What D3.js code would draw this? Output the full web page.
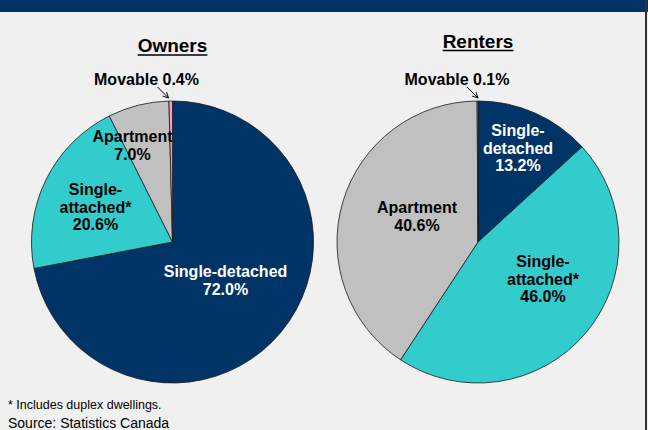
<!DOCTYPE html>
<html>
<head>
<meta charset="utf-8">
<script src="https://cdn.jsdelivr.net/npm/d3@7"></script>
<style>
  body { margin: 0; background: #f0f0f0; }
  svg { display: block; }
  text { font-family: Arial, "Liberation Sans", sans-serif; }
</style>
</head>
<body>
<svg id="chart" width="648" height="430"></svg>
<script>
const categories = ['Single-detached', 'Single-attached*', 'Apartment', 'Movable']
const ownersValues = [72.0, 20.6, 7.0, 0.4]
const rentersValues = [13.2, 46.0, 40.6, 0.1]
const ownersLabels = [['Single-detached'], ['Single-', 'attached*'], ['Apartment']]
const rentersLabels = [['Single-', 'detached'], ['Single-', 'attached*'], ['Apartment']]
const footnotes = ['* Includes duplex dwellings.', 'Source: Statistics Canada']

const width = 648, height = 430
const radius = 141

const svg = d3.select('#chart')

let colorScale = d3.scaleOrdinal()
  .domain(categories)
  .range(['#003366', '#33cccc', '#c0c0c0', '#ff99cc'])

const textColor = ['#ffffff', '#000000', '#000000']

svg.append('rect')
  .attr('width', width)
  .attr('height', height)
  .attr('fill', '#f0f0f0')

svg.append('rect')
  .attr('width', width)
  .attr('height', 12)
  .attr('fill', '#003366')

svg.append('line')
  .attr('x1', 646).attr('x2', 646)
  .attr('y1', 0).attr('y2', height)
  .attr('stroke', '#333')
  .attr('stroke-width', 2)

svg.append('defs').append('marker')
  .attr('id', 'arrow')
  .attr('viewBox', '0 0 10 10')
  .attr('refX', 9).attr('refY', 5)
  .attr('markerWidth', 7).attr('markerHeight', 7)
  .attr('orient', 'auto')
  .append('path')
  .attr('d', 'M1,1 L9,5 L1,9')
  .attr('fill', 'none')
  .attr('stroke', '#000')
  .attr('stroke-width', 1.3)

const fmt = d3.format('.1f')

// one pie: title, slices, labels inside, movable label outside with arrow
function drawPie(cx, title, titleY, values, labels, nudges, movable) {
  const g = svg.append('g').attr('transform', `translate(${cx},242)`)

  const data = categories.map((c, i) => ({ key: c, value: values[i] }))
  const pie = d3.pie().sort(null).value(d => d.value)
  const arc = d3.arc().innerRadius(0).outerRadius(radius)

  g.selectAll('path')
    .data(pie(data))
    .enter()
    .append('path')
      .attr('d', arc)
      .attr('fill', d => colorScale(d.data.key))
      .attr('stroke', '#1a1a1a')
      .attr('stroke-width', 0.8)

  const t = svg.append('text')
    .attr('x', cx)
    .attr('y', titleY)
    .attr('text-anchor', 'middle')
    .attr('font-size', '19px')
    .attr('font-weight', 'bold')
    .text(title)
  const tw = t.node().getComputedTextLength()
  svg.append('line')
    .attr('x1', cx - tw / 2).attr('x2', cx + tw / 2)
    .attr('y1', titleY + 3).attr('y2', titleY + 3)
    .attr('stroke', '#000')
    .attr('stroke-width', 1.6)

  labels.forEach((lines, i) => {
    const allLines = lines.concat([fmt(values[i]) + '%'])
    const lab = g.append('text')
      .attr('text-anchor', 'middle')
      .attr('font-size', '16px')
      .attr('font-weight', 'bold')
      .attr('fill', textColor[i])
    allLines.forEach((l, j) => {
      lab.append('tspan')
        .attr('x', nudges[i][0])
        .attr('y', nudges[i][1] + j * 17.5)
        .text(l)
    })
  })

  g.append('text')
    .attr('x', movable[0])
    .attr('y', -157)
    .attr('text-anchor', 'middle')
    .attr('font-size', '16px')
    .attr('font-weight', 'bold')
    .text('Movable ' + fmt(values[3]) + '%')

  g.append('line')
    .attr('x1', movable[1] - 11).attr('y1', -155)
    .attr('x2', movable[1]).attr('y2', -144)
    .attr('stroke', '#000')
    .attr('stroke-width', 1)
    .attr('marker-end', 'url(#arrow)')
}

drawPie(172.5, 'Owners', 52, ownersValues, ownersLabels,
  [[53, 35], [-77, -47], [-40, -100]], [-26, -4])
drawPie(478, 'Renters', 47.5, rentersValues, rentersLabels,
  [[40, -106], [65, 25], [-61, -29]], [-21, 0])

svg.selectAll('.foot')
  .data(footnotes)
  .enter()
  .append('text')
    .attr('class', 'foot')
    .attr('x', 8)
    .attr('y', (d, i) => i === 0 ? 409 : 428)
    .attr('font-size', (d, i) => i === 0 ? '12.5px' : '14px')
    .text(d => d)
</script>
</body>
</html>
